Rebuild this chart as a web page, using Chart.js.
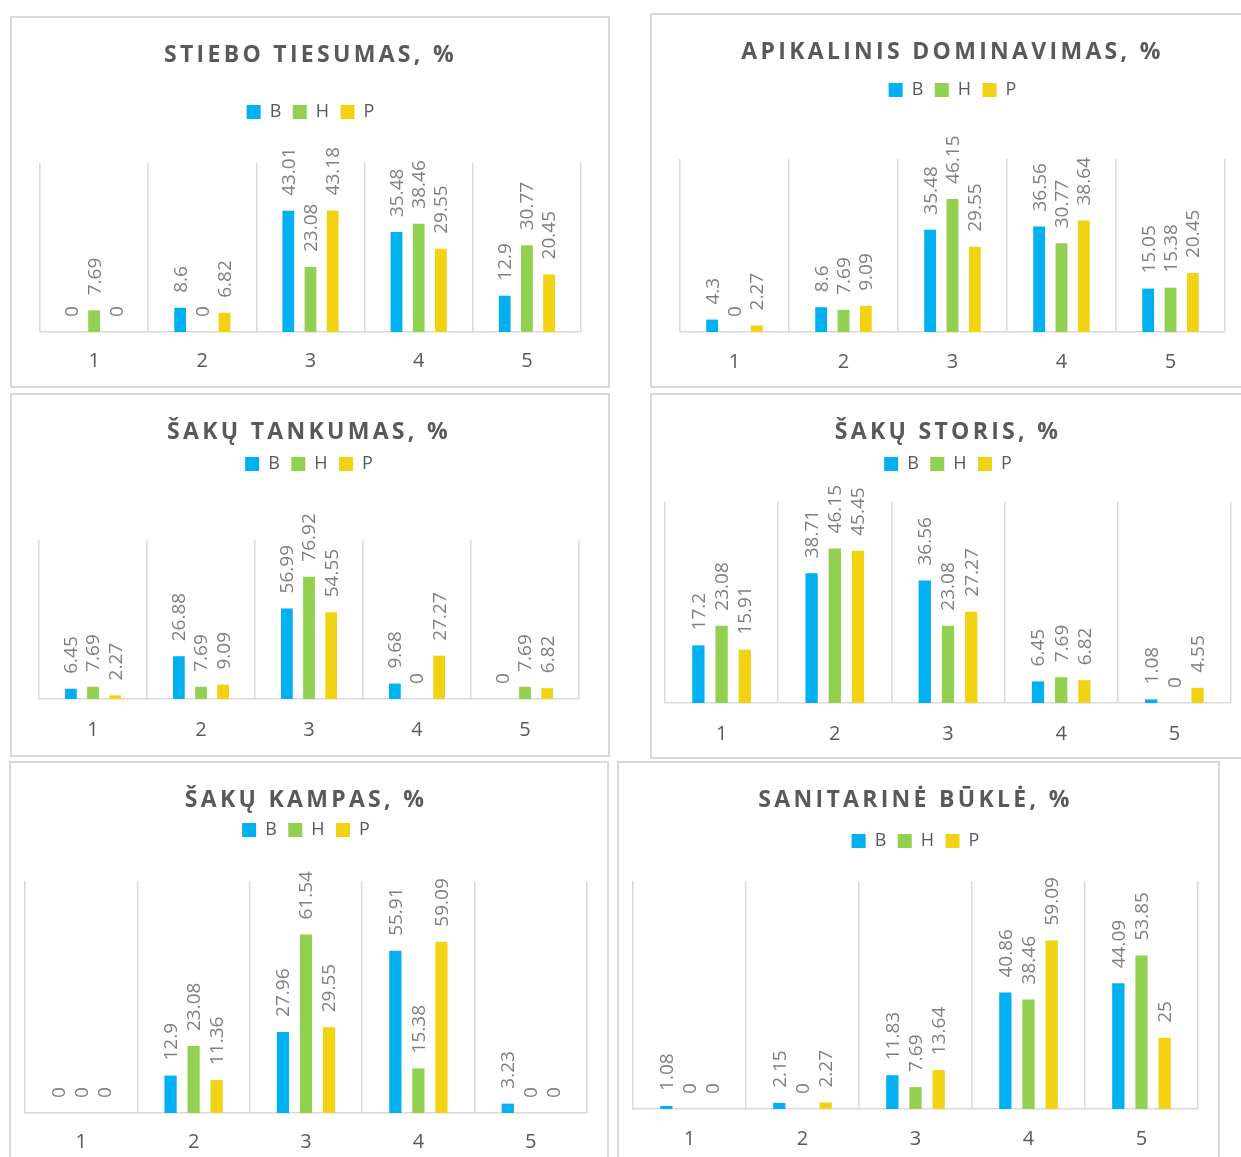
<!DOCTYPE html>
<html>
<head>
<meta charset="utf-8">
<script src="https://cdn.jsdelivr.net/npm/chart.js@4.4.1/dist/chart.umd.min.js"></script>
<style>
  html, body { margin: 0; padding: 0; background: #fff; overflow: hidden; }
  body { width: 1241px; height: 1157px; position: relative; }
  .panel { position: absolute; box-sizing: border-box; border: 2px solid #d9d9d9; background: #fff; }
  canvas { position: absolute; }
</style>
</head>
<body>
<script>
// --------------------
// Data
// --------------------
const categories = ['1', '2', '3', '4', '5'];
const seriesLabels = ['B', 'H', 'P'];
const seriesColors = ['#00b0f0', '#92d050', '#f2d314'];

// Stiebo tiesumas
const stieboB = [0, 8.6, 43.01, 35.48, 12.9];
const stieboH = [7.69, 0, 23.08, 38.46, 30.77];
const stieboP = [0, 6.82, 43.18, 29.55, 20.45];

// Apikalinis dominavimas
const apikB = [4.3, 8.6, 35.48, 36.56, 15.05];
const apikH = [0, 7.69, 46.15, 30.77, 15.38];
const apikP = [2.27, 9.09, 29.55, 38.64, 20.45];

// Šakų tankumas
const tankB = [6.45, 26.88, 56.99, 9.68, 0];
const tankH = [7.69, 7.69, 76.92, 0, 7.69];
const tankP = [2.27, 9.09, 54.55, 27.27, 6.82];

// Šakų storis
const storisB = [17.2, 38.71, 36.56, 6.45, 1.08];
const storisH = [23.08, 46.15, 23.08, 7.69, 0];
const storisP = [15.91, 45.45, 27.27, 6.82, 4.55];

// Šakų kampas
const kampB = [0, 12.9, 27.96, 55.91, 3.23];
const kampH = [0, 23.08, 61.54, 15.38, 0];
const kampP = [0, 11.36, 29.55, 59.09, 0];

// Sanitarinė būklė
const sanB = [1.08, 2.15, 11.83, 40.86, 44.09];
const sanH = [0, 0, 7.69, 38.46, 53.85];
const sanP = [0, 2.27, 13.64, 59.09, 25];

// --------------------
// Panel geometry (page pixels)
// box: [left, top, width, height], plot: [x0, x1, gridTop, axisY]
// --------------------
const panels = [
  { title: 'STIEBO TIESUMAS, %', series: [stieboB, stieboH, stieboP], max: 60,
    box: [10, 16, 600, 372], plot: [40, 581, 163, 332], titleY: 53, legendY: 110, tickY: 359 },
  { title: 'APIKALINIS DOMINAVIMAS, %', series: [apikB, apikH, apikP], max: 60,
    box: [650, 13, 600, 375], plot: [680, 1225, 159, 332], titleY: 50, legendY: 88, tickY: 360 },
  { title: 'ŠAKŲ TANKUMAS, %', series: [tankB, tankH, tankP], max: 100,
    box: [10, 393, 600, 364], plot: [39, 579, 540, 699], titleY: 430, legendY: 462, tickY: 728 },
  { title: 'ŠAKŲ STORIS, %', series: [storisB, storisH, storisP], max: 60,
    box: [650, 393, 600, 366], plot: [665, 1231, 502, 703], titleY: 430, legendY: 462, tickY: 732 },
  { title: 'ŠAKŲ KAMPAS, %', series: [kampB, kampH, kampP], max: 80,
    box: [9, 761, 600, 409], plot: [25, 587, 881, 1113], titleY: 798, legendY: 828, tickY: 1140 },
  { title: 'SANITARINĖ BŪKLĖ, %', series: [sanB, sanH, sanP], max: 80,
    box: [617, 761, 603, 409], plot: [633, 1198, 881, 1109], titleY: 798, legendY: 839, tickY: 1137 }
];

const TEXT_GREY = '#595959';
const LABEL_GREY = '#7f7f7f';
const GRID_GREY = '#d9d9d9';
const FONT = '"Open Sans", "DejaVu Sans", sans-serif';

const TITLE_SIZE = 23;
const LEGEND_SIZE = 18;
const LEGEND_PAD = 11.5;
const TICK_SIZE = 20;
const AXIS_H = 40;
const TEXT_NUDGE = 2; // canvas 'middle' sits a bit high for caps/digits

// rotated value labels above each bar
const barValueLabels = {
  id: 'barValueLabels',
  afterDatasetsDraw(chart) {
    const ctx = chart.ctx;
    ctx.save();
    ctx.font = '19px ' + FONT;
    ctx.fillStyle = LABEL_GREY;
    ctx.textAlign = 'left';
    ctx.textBaseline = 'middle';
    chart.data.datasets.forEach((ds, i) => {
      chart.getDatasetMeta(i).data.forEach((bar, j) => {
        ctx.save();
        ctx.translate(bar.x + 1, bar.y - 15);
        ctx.rotate(-Math.PI / 2);
        ctx.fillText(String(ds.data[j]), 0, 0);
        ctx.restore();
      });
    });
    ctx.restore();
  }
};

// letter-spaced title + extra gap under the legend
function makeLayoutTweaks(legendExtra) {
  return {
    id: 'layoutTweaks',
    beforeInit(chart) {
      const legend = chart.legend;
      const fit = legend.fit;
      legend.fit = function () { fit.call(this); this.height += legendExtra; };

      const title = chart.titleBlock;
      const draw = title.draw;
      title.draw = function () {
        this.ctx.save();
        this.ctx.letterSpacing = '3.3px';
        draw.apply(this, arguments);
        this.ctx.restore();
      };
    }
  };
}

panels.forEach(p => {
  const [bx, by, bw, bh] = p.box;
  const [x0, x1, gridTop, axisY] = p.plot;

  const div = document.createElement('div');
  div.className = 'panel';
  Object.assign(div.style, { left: bx + 'px', top: by + 'px', width: bw + 'px', height: bh + 'px' });
  document.body.appendChild(div);

  const canvas = document.createElement('canvas');
  canvas.width = bw;
  canvas.height = bh;
  Object.assign(canvas.style, { left: bx + 'px', top: by + 'px', width: bw + 'px', height: bh + 'px' });
  document.body.appendChild(canvas);

  const lh = TITLE_SIZE * 1.2;
  const titlePadTop = p.titleY + TEXT_NUDGE - by - lh / 2;
  const legendTop = p.legendY + TEXT_NUDGE - LEGEND_PAD - LEGEND_SIZE / 2;
  const titlePadBottom = legendTop - (by + titlePadTop + lh);
  const legendExtra = gridTop - legendTop - (LEGEND_SIZE + LEGEND_PAD + 10);

  new Chart(canvas.getContext('2d'), {
    type: 'bar',
    data: {
      labels: categories,
      datasets: p.series.map((values, i) => ({
        label: seriesLabels[i],
        data: values,
        backgroundColor: seriesColors[i],
        borderWidth: 0,
        categoryPercentage: 0.615,
        barPercentage: 0.53
      }))
    },
    options: {
      responsive: false,
      animation: false,
      layout: {
        padding: { top: 0, left: x0 - bx, right: bx + bw - x1, bottom: by + bh - axisY - AXIS_H }
      },
      plugins: {
        title: {
          display: true,
          text: p.title,
          color: TEXT_GREY,
          font: { family: FONT, size: TITLE_SIZE, weight: 'bold' },
          padding: { top: titlePadTop, bottom: titlePadBottom }
        },
        legend: {
          position: 'top',
          labels: {
            boxWidth: 14, boxHeight: 14, padding: LEGEND_PAD,
            color: TEXT_GREY,
            font: { family: FONT, size: LEGEND_SIZE }
          }
        },
        tooltip: { enabled: false }
      },
      scales: {
        x: {
          grid: { color: GRID_GREY, lineWidth: 1.5, drawTicks: false, offset: true },
          border: { color: GRID_GREY, width: 1.5 },
          ticks: {
            color: TEXT_GREY,
            padding: p.tickY + TEXT_NUDGE - axisY - TICK_SIZE * 0.6,
            font: { family: FONT, size: TICK_SIZE }
          },
          afterFit: scale => { scale.height = AXIS_H; }
        },
        y: { display: false, min: 0, max: p.max }
      }
    },
    plugins: [barValueLabels, makeLayoutTweaks(legendExtra)]
  });
});
</script>
</body>
</html>
